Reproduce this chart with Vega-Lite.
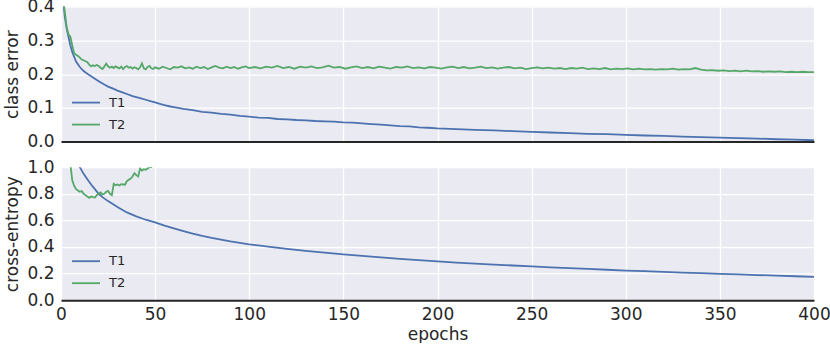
{
  "$schema": "https://vega.github.io/schema/vega-lite/v6.json",
  "background": "white",
  "bounds": "flush",
  "spacing": 25.6,
  "padding": {"left": 3, "top": -2.4, "right": 0, "bottom": 0},
  "datasets": {
    "err": [
      {"epoch": 1, "value": 0.43, "series": "T1"},
      {"epoch": 2, "value": 0.37, "series": "T1"},
      {"epoch": 3, "value": 0.335, "series": "T1"},
      {"epoch": 4, "value": 0.31, "series": "T1"},
      {"epoch": 5, "value": 0.285, "series": "T1"},
      {"epoch": 6, "value": 0.265, "series": "T1"},
      {"epoch": 8, "value": 0.237, "series": "T1"},
      {"epoch": 10, "value": 0.221, "series": "T1"},
      {"epoch": 12, "value": 0.209, "series": "T1"},
      {"epoch": 15, "value": 0.197, "series": "T1"},
      {"epoch": 18, "value": 0.186, "series": "T1"},
      {"epoch": 20, "value": 0.179, "series": "T1"},
      {"epoch": 23, "value": 0.169, "series": "T1"},
      {"epoch": 25, "value": 0.163, "series": "T1"},
      {"epoch": 28, "value": 0.156, "series": "T1"},
      {"epoch": 30, "value": 0.151, "series": "T1"},
      {"epoch": 33, "value": 0.145, "series": "T1"},
      {"epoch": 35, "value": 0.141, "series": "T1"},
      {"epoch": 38, "value": 0.135, "series": "T1"},
      {"epoch": 40, "value": 0.132, "series": "T1"},
      {"epoch": 43, "value": 0.127, "series": "T1"},
      {"epoch": 45, "value": 0.124, "series": "T1"},
      {"epoch": 48, "value": 0.119, "series": "T1"},
      {"epoch": 50, "value": 0.116, "series": "T1"},
      {"epoch": 53, "value": 0.111, "series": "T1"},
      {"epoch": 55, "value": 0.108, "series": "T1"},
      {"epoch": 58, "value": 0.104, "series": "T1"},
      {"epoch": 60, "value": 0.102, "series": "T1"},
      {"epoch": 65, "value": 0.097, "series": "T1"},
      {"epoch": 70, "value": 0.093, "series": "T1"},
      {"epoch": 75, "value": 0.088, "series": "T1"},
      {"epoch": 80, "value": 0.086, "series": "T1"},
      {"epoch": 85, "value": 0.082, "series": "T1"},
      {"epoch": 90, "value": 0.080, "series": "T1"},
      {"epoch": 95, "value": 0.076, "series": "T1"},
      {"epoch": 100, "value": 0.074, "series": "T1"},
      {"epoch": 105, "value": 0.071, "series": "T1"},
      {"epoch": 110, "value": 0.070, "series": "T1"},
      {"epoch": 115, "value": 0.067, "series": "T1"},
      {"epoch": 120, "value": 0.066, "series": "T1"},
      {"epoch": 125, "value": 0.064, "series": "T1"},
      {"epoch": 130, "value": 0.063, "series": "T1"},
      {"epoch": 135, "value": 0.061, "series": "T1"},
      {"epoch": 140, "value": 0.060, "series": "T1"},
      {"epoch": 145, "value": 0.059, "series": "T1"},
      {"epoch": 150, "value": 0.057, "series": "T1"},
      {"epoch": 155, "value": 0.056, "series": "T1"},
      {"epoch": 160, "value": 0.054, "series": "T1"},
      {"epoch": 165, "value": 0.052, "series": "T1"},
      {"epoch": 170, "value": 0.050, "series": "T1"},
      {"epoch": 175, "value": 0.048, "series": "T1"},
      {"epoch": 180, "value": 0.046, "series": "T1"},
      {"epoch": 185, "value": 0.045, "series": "T1"},
      {"epoch": 190, "value": 0.042, "series": "T1"},
      {"epoch": 195, "value": 0.041, "series": "T1"},
      {"epoch": 200, "value": 0.039, "series": "T1"},
      {"epoch": 210, "value": 0.037, "series": "T1"},
      {"epoch": 220, "value": 0.035, "series": "T1"},
      {"epoch": 230, "value": 0.033, "series": "T1"},
      {"epoch": 240, "value": 0.031, "series": "T1"},
      {"epoch": 250, "value": 0.029, "series": "T1"},
      {"epoch": 260, "value": 0.027, "series": "T1"},
      {"epoch": 270, "value": 0.025, "series": "T1"},
      {"epoch": 280, "value": 0.023, "series": "T1"},
      {"epoch": 290, "value": 0.022, "series": "T1"},
      {"epoch": 300, "value": 0.020, "series": "T1"},
      {"epoch": 310, "value": 0.018, "series": "T1"},
      {"epoch": 320, "value": 0.017, "series": "T1"},
      {"epoch": 330, "value": 0.015, "series": "T1"},
      {"epoch": 340, "value": 0.013, "series": "T1"},
      {"epoch": 350, "value": 0.012, "series": "T1"},
      {"epoch": 360, "value": 0.010, "series": "T1"},
      {"epoch": 370, "value": 0.009, "series": "T1"},
      {"epoch": 380, "value": 0.007, "series": "T1"},
      {"epoch": 390, "value": 0.006, "series": "T1"},
      {"epoch": 400, "value": 0.004, "series": "T1"},
      {"epoch": 1, "value": 0.43, "series": "T2"},
      {"epoch": 2, "value": 0.385, "series": "T2"},
      {"epoch": 3, "value": 0.34, "series": "T2"},
      {"epoch": 4, "value": 0.318, "series": "T2"},
      {"epoch": 5, "value": 0.31, "series": "T2"},
      {"epoch": 6, "value": 0.285, "series": "T2"},
      {"epoch": 7, "value": 0.262, "series": "T2"},
      {"epoch": 8, "value": 0.257, "series": "T2"},
      {"epoch": 9, "value": 0.254, "series": "T2"},
      {"epoch": 10, "value": 0.249, "series": "T2"},
      {"epoch": 11, "value": 0.243, "series": "T2"},
      {"epoch": 12, "value": 0.241, "series": "T2"},
      {"epoch": 13, "value": 0.238, "series": "T2"},
      {"epoch": 14, "value": 0.235, "series": "T2"},
      {"epoch": 15, "value": 0.228, "series": "T2"},
      {"epoch": 16, "value": 0.223, "series": "T2"},
      {"epoch": 17, "value": 0.226, "series": "T2"},
      {"epoch": 18, "value": 0.224, "series": "T2"},
      {"epoch": 19, "value": 0.227, "series": "T2"},
      {"epoch": 20, "value": 0.224, "series": "T2"},
      {"epoch": 21, "value": 0.219, "series": "T2"},
      {"epoch": 22, "value": 0.215, "series": "T2"},
      {"epoch": 23, "value": 0.222, "series": "T2"},
      {"epoch": 24, "value": 0.231, "series": "T2"},
      {"epoch": 25, "value": 0.223, "series": "T2"},
      {"epoch": 26, "value": 0.219, "series": "T2"},
      {"epoch": 27, "value": 0.222, "series": "T2"},
      {"epoch": 28, "value": 0.218, "series": "T2"},
      {"epoch": 29, "value": 0.223, "series": "T2"},
      {"epoch": 30, "value": 0.220, "series": "T2"},
      {"epoch": 31, "value": 0.217, "series": "T2"},
      {"epoch": 32, "value": 0.222, "series": "T2"},
      {"epoch": 33, "value": 0.215, "series": "T2"},
      {"epoch": 34, "value": 0.221, "series": "T2"},
      {"epoch": 35, "value": 0.224, "series": "T2"},
      {"epoch": 36, "value": 0.219, "series": "T2"},
      {"epoch": 37, "value": 0.221, "series": "T2"},
      {"epoch": 38, "value": 0.216, "series": "T2"},
      {"epoch": 39, "value": 0.220, "series": "T2"},
      {"epoch": 40, "value": 0.218, "series": "T2"},
      {"epoch": 41, "value": 0.214, "series": "T2"},
      {"epoch": 42, "value": 0.220, "series": "T2"},
      {"epoch": 43, "value": 0.232, "series": "T2"},
      {"epoch": 44, "value": 0.217, "series": "T2"},
      {"epoch": 45, "value": 0.214, "series": "T2"},
      {"epoch": 46, "value": 0.221, "series": "T2"},
      {"epoch": 47, "value": 0.224, "series": "T2"},
      {"epoch": 48, "value": 0.217, "series": "T2"},
      {"epoch": 49, "value": 0.215, "series": "T2"},
      {"epoch": 50, "value": 0.220, "series": "T2"},
      {"epoch": 52, "value": 0.216, "series": "T2"},
      {"epoch": 54, "value": 0.222, "series": "T2"},
      {"epoch": 56, "value": 0.218, "series": "T2"},
      {"epoch": 58, "value": 0.214, "series": "T2"},
      {"epoch": 60, "value": 0.221, "series": "T2"},
      {"epoch": 62, "value": 0.219, "series": "T2"},
      {"epoch": 64, "value": 0.223, "series": "T2"},
      {"epoch": 66, "value": 0.217, "series": "T2"},
      {"epoch": 68, "value": 0.220, "series": "T2"},
      {"epoch": 70, "value": 0.216, "series": "T2"},
      {"epoch": 72, "value": 0.222, "series": "T2"},
      {"epoch": 74, "value": 0.218, "series": "T2"},
      {"epoch": 76, "value": 0.221, "series": "T2"},
      {"epoch": 78, "value": 0.215, "series": "T2"},
      {"epoch": 80, "value": 0.220, "series": "T2"},
      {"epoch": 82, "value": 0.224, "series": "T2"},
      {"epoch": 84, "value": 0.219, "series": "T2"},
      {"epoch": 86, "value": 0.217, "series": "T2"},
      {"epoch": 88, "value": 0.222, "series": "T2"},
      {"epoch": 90, "value": 0.218, "series": "T2"},
      {"epoch": 92, "value": 0.221, "series": "T2"},
      {"epoch": 94, "value": 0.216, "series": "T2"},
      {"epoch": 96, "value": 0.220, "series": "T2"},
      {"epoch": 98, "value": 0.223, "series": "T2"},
      {"epoch": 100, "value": 0.218, "series": "T2"},
      {"epoch": 103, "value": 0.221, "series": "T2"},
      {"epoch": 106, "value": 0.217, "series": "T2"},
      {"epoch": 109, "value": 0.222, "series": "T2"},
      {"epoch": 112, "value": 0.219, "series": "T2"},
      {"epoch": 115, "value": 0.224, "series": "T2"},
      {"epoch": 118, "value": 0.218, "series": "T2"},
      {"epoch": 121, "value": 0.221, "series": "T2"},
      {"epoch": 124, "value": 0.216, "series": "T2"},
      {"epoch": 127, "value": 0.222, "series": "T2"},
      {"epoch": 130, "value": 0.219, "series": "T2"},
      {"epoch": 133, "value": 0.223, "series": "T2"},
      {"epoch": 136, "value": 0.218, "series": "T2"},
      {"epoch": 139, "value": 0.220, "series": "T2"},
      {"epoch": 142, "value": 0.225, "series": "T2"},
      {"epoch": 145, "value": 0.219, "series": "T2"},
      {"epoch": 148, "value": 0.221, "series": "T2"},
      {"epoch": 151, "value": 0.216, "series": "T2"},
      {"epoch": 154, "value": 0.220, "series": "T2"},
      {"epoch": 157, "value": 0.223, "series": "T2"},
      {"epoch": 160, "value": 0.218, "series": "T2"},
      {"epoch": 163, "value": 0.221, "series": "T2"},
      {"epoch": 166, "value": 0.217, "series": "T2"},
      {"epoch": 169, "value": 0.222, "series": "T2"},
      {"epoch": 172, "value": 0.219, "series": "T2"},
      {"epoch": 175, "value": 0.216, "series": "T2"},
      {"epoch": 178, "value": 0.221, "series": "T2"},
      {"epoch": 181, "value": 0.219, "series": "T2"},
      {"epoch": 184, "value": 0.223, "series": "T2"},
      {"epoch": 187, "value": 0.218, "series": "T2"},
      {"epoch": 190, "value": 0.220, "series": "T2"},
      {"epoch": 193, "value": 0.217, "series": "T2"},
      {"epoch": 196, "value": 0.221, "series": "T2"},
      {"epoch": 199, "value": 0.219, "series": "T2"},
      {"epoch": 202, "value": 0.216, "series": "T2"},
      {"epoch": 205, "value": 0.220, "series": "T2"},
      {"epoch": 208, "value": 0.222, "series": "T2"},
      {"epoch": 211, "value": 0.218, "series": "T2"},
      {"epoch": 214, "value": 0.221, "series": "T2"},
      {"epoch": 217, "value": 0.217, "series": "T2"},
      {"epoch": 220, "value": 0.219, "series": "T2"},
      {"epoch": 223, "value": 0.222, "series": "T2"},
      {"epoch": 226, "value": 0.218, "series": "T2"},
      {"epoch": 229, "value": 0.220, "series": "T2"},
      {"epoch": 232, "value": 0.216, "series": "T2"},
      {"epoch": 235, "value": 0.219, "series": "T2"},
      {"epoch": 238, "value": 0.221, "series": "T2"},
      {"epoch": 241, "value": 0.217, "series": "T2"},
      {"epoch": 244, "value": 0.219, "series": "T2"},
      {"epoch": 247, "value": 0.215, "series": "T2"},
      {"epoch": 250, "value": 0.218, "series": "T2"},
      {"epoch": 253, "value": 0.220, "series": "T2"},
      {"epoch": 256, "value": 0.217, "series": "T2"},
      {"epoch": 259, "value": 0.219, "series": "T2"},
      {"epoch": 262, "value": 0.216, "series": "T2"},
      {"epoch": 265, "value": 0.218, "series": "T2"},
      {"epoch": 268, "value": 0.215, "series": "T2"},
      {"epoch": 271, "value": 0.218, "series": "T2"},
      {"epoch": 274, "value": 0.216, "series": "T2"},
      {"epoch": 277, "value": 0.219, "series": "T2"},
      {"epoch": 280, "value": 0.215, "series": "T2"},
      {"epoch": 283, "value": 0.217, "series": "T2"},
      {"epoch": 286, "value": 0.215, "series": "T2"},
      {"epoch": 289, "value": 0.218, "series": "T2"},
      {"epoch": 292, "value": 0.214, "series": "T2"},
      {"epoch": 295, "value": 0.216, "series": "T2"},
      {"epoch": 298, "value": 0.215, "series": "T2"},
      {"epoch": 301, "value": 0.217, "series": "T2"},
      {"epoch": 304, "value": 0.214, "series": "T2"},
      {"epoch": 307, "value": 0.216, "series": "T2"},
      {"epoch": 310, "value": 0.214, "series": "T2"},
      {"epoch": 313, "value": 0.215, "series": "T2"},
      {"epoch": 316, "value": 0.213, "series": "T2"},
      {"epoch": 319, "value": 0.215, "series": "T2"},
      {"epoch": 322, "value": 0.214, "series": "T2"},
      {"epoch": 325, "value": 0.216, "series": "T2"},
      {"epoch": 328, "value": 0.213, "series": "T2"},
      {"epoch": 331, "value": 0.215, "series": "T2"},
      {"epoch": 334, "value": 0.214, "series": "T2"},
      {"epoch": 337, "value": 0.218, "series": "T2"},
      {"epoch": 340, "value": 0.213, "series": "T2"},
      {"epoch": 343, "value": 0.211, "series": "T2"},
      {"epoch": 346, "value": 0.212, "series": "T2"},
      {"epoch": 349, "value": 0.210, "series": "T2"},
      {"epoch": 352, "value": 0.211, "series": "T2"},
      {"epoch": 355, "value": 0.209, "series": "T2"},
      {"epoch": 358, "value": 0.210, "series": "T2"},
      {"epoch": 361, "value": 0.208, "series": "T2"},
      {"epoch": 364, "value": 0.210, "series": "T2"},
      {"epoch": 367, "value": 0.208, "series": "T2"},
      {"epoch": 370, "value": 0.209, "series": "T2"},
      {"epoch": 373, "value": 0.207, "series": "T2"},
      {"epoch": 376, "value": 0.208, "series": "T2"},
      {"epoch": 379, "value": 0.207, "series": "T2"},
      {"epoch": 382, "value": 0.208, "series": "T2"},
      {"epoch": 385, "value": 0.206, "series": "T2"},
      {"epoch": 388, "value": 0.207, "series": "T2"},
      {"epoch": 391, "value": 0.206, "series": "T2"},
      {"epoch": 394, "value": 0.207, "series": "T2"},
      {"epoch": 397, "value": 0.206, "series": "T2"},
      {"epoch": 400, "value": 0.206, "series": "T2"}
    ],
    "ce": [
      {"epoch": 1, "value": 2.2, "series": "T1"},
      {"epoch": 3, "value": 1.6, "series": "T1"},
      {"epoch": 5, "value": 1.3, "series": "T1"},
      {"epoch": 7, "value": 1.12, "series": "T1"},
      {"epoch": 9, "value": 1.04, "series": "T1"},
      {"epoch": 10, "value": 1.0, "series": "T1"},
      {"epoch": 12, "value": 0.95, "series": "T1"},
      {"epoch": 14, "value": 0.91, "series": "T1"},
      {"epoch": 16, "value": 0.87, "series": "T1"},
      {"epoch": 18, "value": 0.835, "series": "T1"},
      {"epoch": 20, "value": 0.80, "series": "T1"},
      {"epoch": 22, "value": 0.775, "series": "T1"},
      {"epoch": 25, "value": 0.745, "series": "T1"},
      {"epoch": 30, "value": 0.70, "series": "T1"},
      {"epoch": 35, "value": 0.66, "series": "T1"},
      {"epoch": 40, "value": 0.63, "series": "T1"},
      {"epoch": 45, "value": 0.605, "series": "T1"},
      {"epoch": 50, "value": 0.585, "series": "T1"},
      {"epoch": 55, "value": 0.56, "series": "T1"},
      {"epoch": 60, "value": 0.54, "series": "T1"},
      {"epoch": 65, "value": 0.52, "series": "T1"},
      {"epoch": 70, "value": 0.50, "series": "T1"},
      {"epoch": 75, "value": 0.483, "series": "T1"},
      {"epoch": 80, "value": 0.468, "series": "T1"},
      {"epoch": 90, "value": 0.442, "series": "T1"},
      {"epoch": 100, "value": 0.42, "series": "T1"},
      {"epoch": 110, "value": 0.402, "series": "T1"},
      {"epoch": 120, "value": 0.386, "series": "T1"},
      {"epoch": 130, "value": 0.371, "series": "T1"},
      {"epoch": 140, "value": 0.357, "series": "T1"},
      {"epoch": 150, "value": 0.345, "series": "T1"},
      {"epoch": 160, "value": 0.333, "series": "T1"},
      {"epoch": 170, "value": 0.322, "series": "T1"},
      {"epoch": 180, "value": 0.311, "series": "T1"},
      {"epoch": 190, "value": 0.301, "series": "T1"},
      {"epoch": 200, "value": 0.292, "series": "T1"},
      {"epoch": 210, "value": 0.283, "series": "T1"},
      {"epoch": 220, "value": 0.275, "series": "T1"},
      {"epoch": 230, "value": 0.268, "series": "T1"},
      {"epoch": 240, "value": 0.261, "series": "T1"},
      {"epoch": 250, "value": 0.254, "series": "T1"},
      {"epoch": 260, "value": 0.247, "series": "T1"},
      {"epoch": 270, "value": 0.241, "series": "T1"},
      {"epoch": 280, "value": 0.235, "series": "T1"},
      {"epoch": 290, "value": 0.229, "series": "T1"},
      {"epoch": 300, "value": 0.223, "series": "T1"},
      {"epoch": 310, "value": 0.218, "series": "T1"},
      {"epoch": 320, "value": 0.213, "series": "T1"},
      {"epoch": 330, "value": 0.208, "series": "T1"},
      {"epoch": 340, "value": 0.203, "series": "T1"},
      {"epoch": 350, "value": 0.198, "series": "T1"},
      {"epoch": 360, "value": 0.194, "series": "T1"},
      {"epoch": 370, "value": 0.189, "series": "T1"},
      {"epoch": 380, "value": 0.185, "series": "T1"},
      {"epoch": 390, "value": 0.180, "series": "T1"},
      {"epoch": 400, "value": 0.176, "series": "T1"},
      {"epoch": 1, "value": 2.0, "series": "T2"},
      {"epoch": 3, "value": 1.4, "series": "T2"},
      {"epoch": 5, "value": 1.02, "series": "T2"},
      {"epoch": 6, "value": 0.90, "series": "T2"},
      {"epoch": 7, "value": 0.86, "series": "T2"},
      {"epoch": 8, "value": 0.835, "series": "T2"},
      {"epoch": 9, "value": 0.825, "series": "T2"},
      {"epoch": 10, "value": 0.815, "series": "T2"},
      {"epoch": 11, "value": 0.82, "series": "T2"},
      {"epoch": 12, "value": 0.80, "series": "T2"},
      {"epoch": 13, "value": 0.79, "series": "T2"},
      {"epoch": 14, "value": 0.78, "series": "T2"},
      {"epoch": 15, "value": 0.77, "series": "T2"},
      {"epoch": 16, "value": 0.78, "series": "T2"},
      {"epoch": 17, "value": 0.775, "series": "T2"},
      {"epoch": 18, "value": 0.772, "series": "T2"},
      {"epoch": 19, "value": 0.79, "series": "T2"},
      {"epoch": 20, "value": 0.80, "series": "T2"},
      {"epoch": 21, "value": 0.81, "series": "T2"},
      {"epoch": 22, "value": 0.795, "series": "T2"},
      {"epoch": 23, "value": 0.80, "series": "T2"},
      {"epoch": 24, "value": 0.815, "series": "T2"},
      {"epoch": 25, "value": 0.822, "series": "T2"},
      {"epoch": 26, "value": 0.80, "series": "T2"},
      {"epoch": 27, "value": 0.79, "series": "T2"},
      {"epoch": 28, "value": 0.875, "series": "T2"},
      {"epoch": 29, "value": 0.865, "series": "T2"},
      {"epoch": 30, "value": 0.87, "series": "T2"},
      {"epoch": 31, "value": 0.862, "series": "T2"},
      {"epoch": 32, "value": 0.872, "series": "T2"},
      {"epoch": 33, "value": 0.87, "series": "T2"},
      {"epoch": 34, "value": 0.868, "series": "T2"},
      {"epoch": 35, "value": 0.895, "series": "T2"},
      {"epoch": 36, "value": 0.905, "series": "T2"},
      {"epoch": 37, "value": 0.915, "series": "T2"},
      {"epoch": 38, "value": 0.93, "series": "T2"},
      {"epoch": 39, "value": 0.955, "series": "T2"},
      {"epoch": 40, "value": 0.94, "series": "T2"},
      {"epoch": 41, "value": 0.93, "series": "T2"},
      {"epoch": 42, "value": 0.99, "series": "T2"},
      {"epoch": 43, "value": 0.975, "series": "T2"},
      {"epoch": 44, "value": 0.985, "series": "T2"},
      {"epoch": 45, "value": 0.98, "series": "T2"},
      {"epoch": 46, "value": 0.99, "series": "T2"},
      {"epoch": 47, "value": 1.0, "series": "T2"},
      {"epoch": 48, "value": 1.0, "series": "T2"},
      {"epoch": 49, "value": 1.04, "series": "T2"},
      {"epoch": 50, "value": 1.06, "series": "T2"},
      {"epoch": 52, "value": 1.1, "series": "T2"}
    ]
  },
  "vconcat": [
    {
      "width": 753,
      "height": 135,
      "data": {"name": "err"},
      "mark": {"type": "line", "clip": true, "strokeWidth": 1.8},
      "encoding": {
        "x": {
          "field": "epoch", "type": "quantitative",
          "scale": {"domain": [0, 400], "nice": false},
          "axis": {"values": [0, 50, 100, 150, 200, 250, 300, 350, 400], "labels": false, "title": null}
        },
        "y": {
          "field": "value", "type": "quantitative",
          "scale": {"domain": [0, 0.4], "nice": false},
          "axis": {"values": [0, 0.1, 0.2, 0.3, 0.4], "format": ".1f", "title": "class error"}
        },
        "color": {
          "field": "series", "type": "nominal",
          "scale": {"domain": ["T1", "T2"], "range": ["#4C72B0", "#55A868"]},
          "legend": {"orient": "bottom-left", "title": null}
        }
      }
    },
    {
      "width": 753,
      "height": 133,
      "data": {"name": "ce"},
      "mark": {"type": "line", "clip": true, "strokeWidth": 1.8},
      "encoding": {
        "x": {
          "field": "epoch", "type": "quantitative",
          "scale": {"domain": [0, 400], "nice": false},
          "axis": {"values": [0, 50, 100, 150, 200, 250, 300, 350, 400], "format": "d", "title": "epochs"}
        },
        "y": {
          "field": "value", "type": "quantitative",
          "scale": {"domain": [0, 1], "nice": false},
          "axis": {"values": [0, 0.2, 0.4, 0.6, 0.8, 1.0], "format": ".1f", "title": "cross-entropy"}
        },
        "color": {
          "field": "series", "type": "nominal",
          "scale": {"domain": ["T1", "T2"], "range": ["#4C72B0", "#55A868"]},
          "legend": {"orient": "bottom-left", "title": null}
        }
      }
    }
  ],
  "resolve": {"legend": {"color": "independent"}},
  "config": {
    "view": {"fill": "#EAEAF2", "stroke": null},
    "axis": {
      "grid": true,
      "gridColor": "#FFFFFF",
      "gridWidth": 1.3,
      "domain": false,
      "ticks": false,
      "labelFlush": false,
      "labelFont": "DejaVu Sans",
      "labelFontSize": 17,
      "labelColor": "#262626",
      "labelPadding": 7,
      "titleFont": "DejaVu Sans",
      "titleFontSize": 17,
      "titleFontWeight": "normal",
      "titleColor": "#262626",
      "titlePadding": 5
    },
    "axisX": {"domain": true, "domainColor": "#262626", "domainWidth": 2, "labelPadding": 6, "titlePadding": 4},
    "legend": {
      "offset": 10,
      "labelFont": "DejaVu Sans",
      "labelFontSize": 13,
      "labelColor": "#262626",
      "symbolType": "stroke",
      "symbolSize": 784,
      "symbolStrokeWidth": 1.8,
      "labelOffset": 8,
      "rowPadding": -5,
      "padding": 0
    }
  }
}
